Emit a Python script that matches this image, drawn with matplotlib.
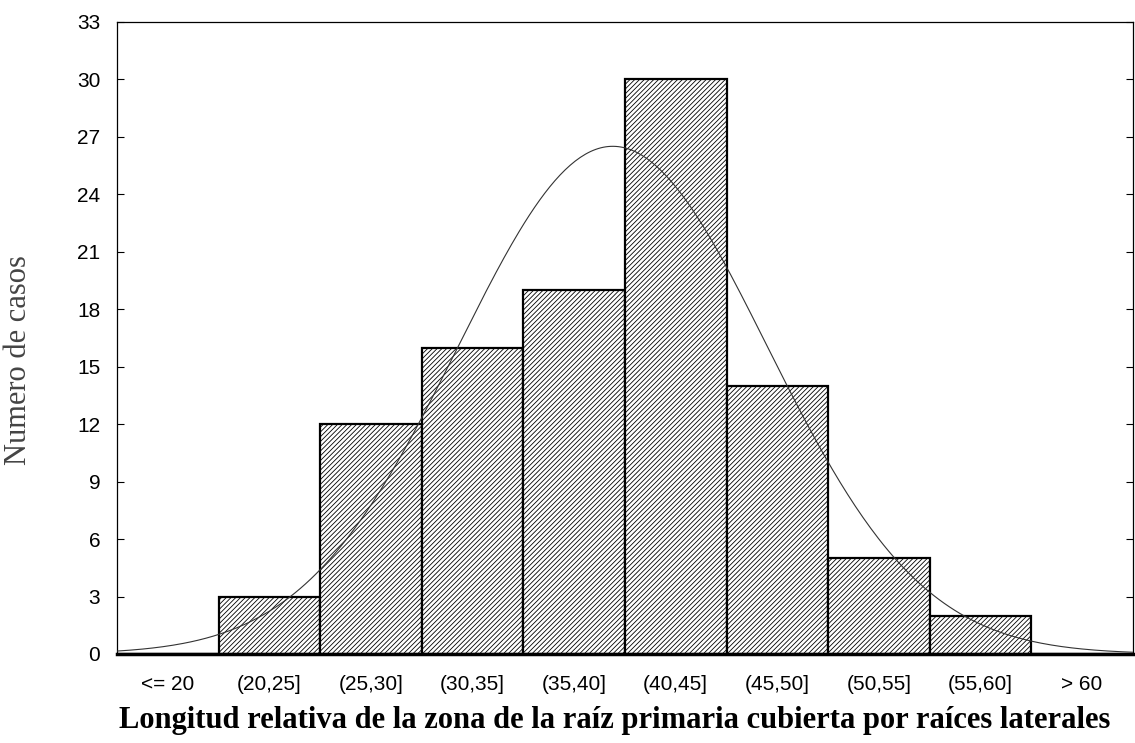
import numpy as np
import matplotlib.pyplot as plt

# histogram data
categories = ["<= 20", "(20,25]", "(25,30]", "(30,35]", "(35,40]",
              "(40,45]", "(45,50]", "(50,55]", "(55,60]", "> 60"]
counts = np.array([0, 3, 12, 16, 19, 30, 14, 5, 2, 0])
midpoints = np.array([17.5, 22.5, 27.5, 32.5, 37.5, 42.5, 47.5, 52.5, 57.5, 62.5])
bin_width = 5.0
yticks = np.arange(0, 34, 3)

# expected normal curve (mean / sd)
mean_fit = 39.4
sd_fit = 7.6

plt.rcParams["hatch.linewidth"] = 0.6

fig = plt.figure(figsize=(11.35, 7.43), dpi=100)
ax = fig.add_axes([0.1031, 0.1198, 0.8950, 0.8506])

x = np.arange(len(categories))
ax.bar(x, counts, width=1.0, color="white", edgecolor="black",
       linewidth=1.6, hatch="///////", zorder=2)

n = counts.sum()
xs = np.linspace(-0.5, 9.5, 400)
vals = midpoints[0] + xs * bin_width
curve = n * bin_width / (sd_fit * np.sqrt(2 * np.pi)) * np.exp(-0.5 * ((vals - mean_fit) / sd_fit) ** 2)
ax.plot(xs, curve, color="#333333", linewidth=0.8, zorder=3)

ax.set_xlim(-0.5, 9.5)
ax.set_ylim(0, 33)
ax.set_yticks(yticks)
ax.set_xticks(x)
ax.set_xticklabels(categories, family="Liberation Sans", fontsize=15)
for lab in ax.get_yticklabels():
    lab.set_family("Liberation Sans")
    lab.set_fontsize(15)
ax.tick_params(axis="y", direction="in", length=5, right=True, pad=12)
ax.tick_params(axis="x", length=0, pad=15)
ax.spines["bottom"].set_linewidth(2.5)
for s in ["left", "top", "right"]:
    ax.spines[s].set_linewidth(0.9)

ax.set_ylabel("Numero de casos", family="Liberation Serif", fontsize=22,
              color="#444444")
ax.yaxis.set_label_coords(-0.083, 0.465)
ax.set_xlabel("Longitud relativa de la zona de la raíz primaria cubierta por raíces laterales",
              family="Liberation Serif", fontweight="bold", fontsize=22)
ax.xaxis.set_label_coords(0.49, -0.083)

fig.savefig("out.png", dpi=100)
